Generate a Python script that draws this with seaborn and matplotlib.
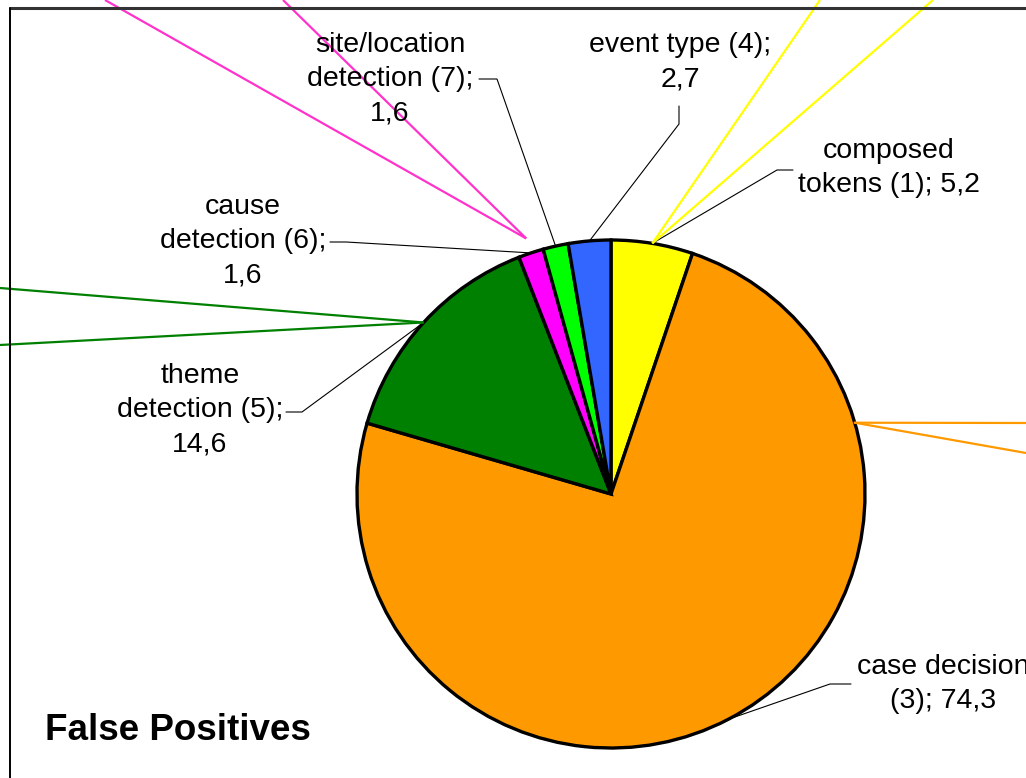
import numpy as np
import matplotlib
matplotlib.use("Agg")
import matplotlib.pyplot as plt
import seaborn as sns

# Error categories of the false positives and their shares (%)
categories = ["composed tokens (1)", "case decision (3)", "theme detection (5)",
              "cause detection (6)", "site/location detection (7)", "event type (4)"]
shares = [5.2, 74.3, 14.6, 1.6, 1.6, 2.7]
share_labels = ["5,2", "74,3", "14,6", "1,6", "1,6", "2,7"]
colors = ["#FFFF00", "#FF9900", "#008000", "#FF00FF", "#00FF00", "#3366FF"]

sns.set_theme(style="white")
plt.rcParams["font.family"] = ["Liberation Sans", "DejaVu Sans"]

W, H = 1026, 778
fig = plt.figure(figsize=(W / 100, H / 100), dpi=100)
ax = fig.add_axes([0, 0, 1, 1])

cx, cy, R = 611, H - 494, 254
ax.pie(shares, colors=colors, startangle=90, counterclock=False,
       center=(cx, cy), radius=R,
       wedgeprops=dict(edgecolor="black", linewidth=2.4))
ax.set_xlim(0, W)
ax.set_ylim(0, H)
ax.set_aspect("equal")
ax.axis("off")

# angle (degrees, math convention) at the middle of every wedge
cum = np.cumsum(shares)
mids = cum - np.array(shares) / 2
mid_angles = 90 - 360 * mids / sum(shares)


def rim(i, scale=1.0):
    a = np.deg2rad(mid_angles[i])
    return cx + scale * R * np.cos(a), cy + scale * R * np.sin(a)


label_text = [
    "composed\ntokens (1); " + share_labels[0],
    "case decision\n(3); " + share_labels[1],
    "theme\ndetection (5);\n" + share_labels[2],
    "cause\ndetection (6);\n" + share_labels[3],
    "site/location\ndetection (7);\n" + share_labels[4],
    "event type (4);\n" + share_labels[5],
]
# label placement: text centre (x, y from top) and the two leader-line points
label_layout = [
    ((889, 168), (793, 170), (777, 170)),
    ((943, 684), (851, 684), (830, 684)),
    ((200, 410), (286, 412), (302, 412)),
    ((243, 241), (330, 242), (346, 242)),
    ((390, 79), (479, 79), (497, 79)),
    ((680, 62), (679, 106), (679, 124)),
]
for i, ((tx, ty), p0, p1) in enumerate(label_layout):
    ax.text(tx, H - ty, label_text[i], ha="center", va="center",
            fontsize=20.5, linespacing=1.42, color="black")
    ex, ey = rim(i)
    ax.plot([p0[0], p1[0], ex], [H - p0[1], H - p1[1], ey],
            color="black", lw=0.8, solid_joinstyle="miter")

# long coloured callout lines running off the frame
callouts = [
    (3, 1.06, [(105, 0), (283, 0)], "#FF33CC"),
    (0, 1.0, [(820, 0), (933, 0)], "#FFFF00"),
    (2, 1.0, [(0, 288), (0, 345)], "#008000"),
]
for i, sc, ends, col in callouts:
    ox, oy = rim(i, sc)
    for ex, ey in ends:
        ax.plot([ox, ex], [oy, H - ey], color=col, lw=1.6, solid_capstyle="butt")
orange_origin = (cx + R * np.sin(np.deg2rad(73.7)), cy + R * np.cos(np.deg2rad(73.7)))
for ex, ey in [(1026, 423), (1026, 453)]:
    ax.plot([orange_origin[0], ex], [orange_origin[1], H - ey],
            color="#FF9900", lw=1.6)

# chart frame (top and left edges visible)
ax.plot([10, W + 5], [H - 8, H - 8], color="#333333", lw=2.2)
ax.plot([10, 10], [H - 8, -5], color="black", lw=1.4)

ax.text(45, H - 731, "False Positives", ha="left", va="center",
        fontsize=26.5, fontweight="bold", color="black")

fig.savefig("out.png", dpi=100)
